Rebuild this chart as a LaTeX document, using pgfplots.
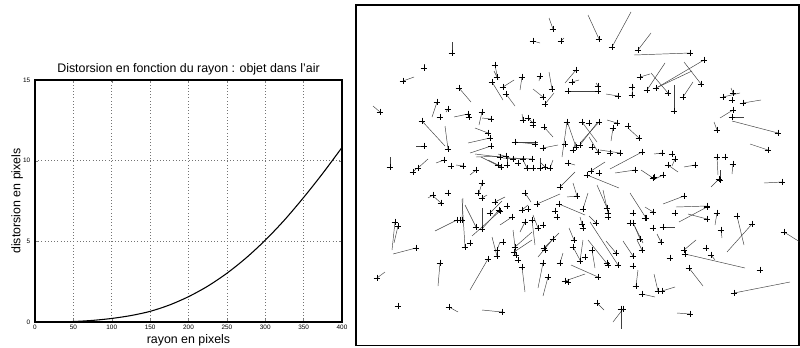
\documentclass[border=0pt]{standalone}
\usepackage{pgfplots}
\usepackage{pgfplotstable}
\pgfplotsset{compat=1.18}
\usepackage{fontspec}
\setmainfont{Liberation Sans}
\pgfplotstableread{
x y
0 0
25 0.005
50 0.03
75 0.1
100 0.22
125 0.4
150 0.66
175 1.05
200 1.57
225 2.22
250 3.02
275 3.97
300 5.07
325 6.32
350 7.72
375 9.22
400 10.82
}\distdata
\pgfplotstableread{
x y u v
452 53 0 -11
553 29 -4 -11
533 41 7 2
561 41 3 -3
599 39 -11 -24
612 47 19 -35
638 50 13 -17
690 53 -56 2
424 68 0 -4
403 81 11 -4
459 88 12 14
495 65 3 15
497 77 -3 -6
492 82 11 18
522 77 -2 13
503 87 11 -7
506 94 9 12
540 76 -1 5
552 89 -3 -17
543 97 -10 -8
545 104 9 -11
576 70 -11 13
572 82 7 -2
568 91 30 0
598 91 0 0
598 86 -2 -3
618 96 -12 -2
632 95 1 -10
632 87 0 0
647 90 18 -27
656 88 36 -17
704 60 -46 27
668 93 -17 -20
674 111 0 -26
683 97 10 -15
701 84 -17 -22
640 77 10 -3
723 97 17 -4
733 93 -2 -5
732 100 0 0
743 103 18 -3
733 110 -13 8
732 117 12 0
778 133 -46 -12
717 130 -3 -8
768 150 -18 -6
380 112 -7 -6
437 102 -5 15
448 109 -2 3
440 117 0 0
468 114 -14 3
469 117 0 0
482 112 -3 13
491 119 -9 -1
422 121 23 25
448 149 -3 -23
424 146 -8 0
488 133 -13 -5
490 138 -22 5
491 146 -21 7
390 167 0 -10
418 168 10 -9
413 172 3 -3
444 160 -8 3
451 166 0 0
463 166 -7 -1
476 170 -6 5
501 167 -20 -10
523 120 -1 -6
528 118 5 5
533 122 0 0
533 125 0 0
544 127 9 10
567 122 -5 35
576 147 -9 -26
580 145 17 -22
582 122 15 20
589 123 0 0
599 122 -18 20
617 123 -10 -3
628 126 0 0
613 128 -2 13
639 138 -11 -10
535 144 -20 -2
515 142 23 0
543 148 15 -3
565 144 0 0
573 150 3 -8
592 147 0 0
598 152 -9 -15
610 153 0 0
620 153 -20 -3
642 152 -32 17
635 170 -20 3
568 163 7 2
500 157 -25 -3
506 156 -30 1
513 159 -15 -5
523 159 -20 -1
532 159 -20 -1
498 165 -10 -5
507 165 0 -8
518 163 0 0
527 168 -5 -10
533 168 0 0
540 168 0 -10
545 167 -5 -5
550 168 3 -8
587 175 32 13
599 173 0 0
591 171 14 -9
662 153 -8 1
672 154 0 0
675 159 -3 7
668 165 10 7
695 165 -11 2
717 157 1 18
725 157 0 0
733 164 -1 10
482 183 -3 10
433 195 -5 3
441 203 -9 -8
448 193 0 0
478 193 0 0
482 198 5 -3
495 202 10 -5
490 213 12 -12
500 211 -28 25
499 210 -18 20
507 206 0 0
395 222 -3 28
398 226 -4 17
416 248 -23 6
457 220 -22 11
460 220 0 0
462 220 1 -22
476 227 -11 -22
482 229 0 -21
465 247 -3 -48
470 243 0 0
497 256 -5 -19
497 250 3 -8
488 259 -18 31
440 263 -2 23
377 278 8 -6
398 306 0 0
449 307 9 5
502 312 -20 -2
560 187 15 -15
525 193 6 9
577 196 -10 1
577 196 -4 -13
537 204 23 -10
522 210 6 -5
528 209 0 0
512 217 -12 8
525 222 -5 10
532 220 3 25
559 204 26 11
555 211 0 0
557 217 0 0
583 209 5 -16
607 208 -10 -23
608 213 -5 -23
608 217 0 0
646 218 -16 -25
633 213 0 0
630 223 0 0
633 223 10 20
582 224 -2 -7
583 228 0 0
596 223 -7 -7
618 265 -28 -43
543 225 0 0
538 228 -5 -13
553 239 -15 18
544 248 15 -15
545 250 0 0
515 247 17 -15
514 252 18 -12
516 255 -3 -25
503 242 0 0
574 240 -5 -12
573 247 7 13
580 261 3 -21
585 257 0 0
592 250 3 18
608 265 -20 -25
607 263 0 0
616 253 -10 -12
633 256 -10 -15
633 266 0 0
642 250 -5 -10
640 239 -5 -12
518 260 0 0
522 267 3 25
543 263 -5 25
560 263 3 -10
548 277 -5 19
598 277 -27 -12
565 281 20 -7
568 282 0 0
636 286 2 -16
642 294 13 3
597 303 7 7
621 309 0 20
623 309 -10 13
654 177 0 0
663 175 -10 5
653 178 -12 -8
719 179 -8 8
720 180 0 -10
782 182 -18 1
684 196 -21 8
707 206 -31 1
707 207 -28 15
707 219 -19 -5
717 213 -2 12
675 213 0 0
653 212 -8 -5
645 218 0 0
737 216 7 29
752 224 -25 28
784 232 16 10
721 230 1 8
653 228 0 0
663 227 12 0
661 242 -4 -8
684 250 12 -10
685 254 60 14
706 248 0 0
711 255 4 5
670 258 0 0
689 268 14 18
760 270 0 0
658 291 -4 -17
662 291 13 -4
734 293 56 -11
690 314 -13 -1
}\vecdata
\begin{document}
\begin{tikzpicture}
\useasboundingbox (0pt,0pt) rectangle (600pt,260.25pt);
\begin{axis}[
  at={(26.25pt,18.75pt)}, anchor=south west,
  scale only axis, width=230.25pt, height=181.5pt,
  xmin=0, xmax=400, ymin=0, ymax=15,
  xtick={0,50,...,400}, ytick={0,5,10,15},
  grid=major, major grid style={dotted, black!55, line width=0.4pt},
  tick align=inside, major tick length=2pt,
  axis line style={line width=0.8pt},
  /pgf/number format/assume math mode=true,
  tick label style={font=\fontsize{4.8}{5}\selectfont},
  xticklabel style={yshift=1pt},
  title={Distorsion en fonction du rayon : objet dans l'air},
  title style={font=\fontsize{9.3}{10}\selectfont, at={(axis description cs:0.5,1)}, anchor=south, yshift=-6pt},
  xlabel={rayon en pixels},
  xlabel style={font=\fontsize{9.3}{10}\selectfont, at={(axis description cs:0.5,0)}, anchor=north, yshift=-5.5pt},
  ylabel={distorsion en pixels},
  ylabel style={font=\fontsize{9.3}{10}\selectfont, at={(axis description cs:-0.058,0.5)}, anchor=center},
]
\addplot[black, line width=0.8pt, smooth, no markers] table[x=x,y=y] {\distdata};
\end{axis}
\begin{axis}[
  at={(267pt,1.125pt)}, anchor=south west,
  scale only axis, width=332.25pt, height=255.375pt,
  xmin=356, xmax=799, ymin=5, ymax=345.5, y dir=reverse,
  xtick=\empty, ytick=\empty,
  axis line style={line width=1pt},
]
\addplot[quiver={u=\thisrow{u}, v=\thisrow{v}}, -, black!75, line width=0.35pt, no markers] table[x=x,y=y] {\vecdata};
\addplot[only marks, mark=+, mark size=2.6pt, mark options={black, line width=0.45pt}] table[x=x,y=y] {\vecdata};
\end{axis}
\end{tikzpicture}
\end{document}
